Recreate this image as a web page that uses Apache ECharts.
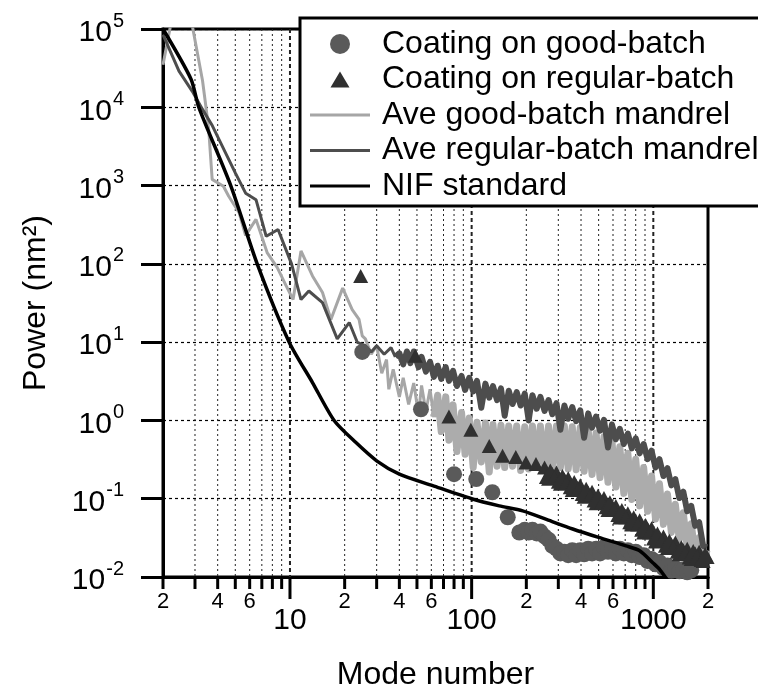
<!DOCTYPE html>
<html>
<head>
<meta charset="utf-8">
<script src="https://cdn.jsdelivr.net/npm/echarts@6/dist/echarts.min.js"></script>
<style>
  html, body { margin: 0; padding: 0; background: #fff; }
  #chart { width: 758px; height: 685px; }
</style>
</head>
<body>
<div id="chart"></div>
<script>
const FONT = '"Liberation Sans", Arial, Helvetica, sans-serif';

// axis ranges
const xMin = 2, xMax = 2000;
const yMin = 0.01, yMax = 100000;

// x-axis ticks and their labels (log axis, 1-2-...-9 per decade)
const xTickValues = [2,3,4,5,6,7,8,9,10,20,30,40,50,60,70,80,90,100,200,300,400,500,600,700,800,900,1000,2000];
const xMajorValues = [10, 100, 1000];
const xLabelValues = [2, 4, 6, 10, 20, 40, 60, 100, 200, 400, 600, 1000, 2000];
const xLabelTexts  = ['2','4','6','10','2','4','6','100','2','4','6','1000','2'];

// y-axis decades and the exponents printed next to them
const yTickValues = [0.01, 0.1, 1, 10, 100, 1000, 10000, 100000];
const yTickExps   = ['-2', '-1', '0', '1', '2', '3', '4', '5'];

// NIF standard power spectrum
const nifModes = [2,2.85,3.15,4.72,6.6,9.9,13.3,17.5,23,30,40,61,100,142,191,260,360,500,708,841,1000,1080,1200];
const nifPower = [1e5,2.3e4,1e4,1e3,100,10,3.05,1,0.525,0.305,0.206,0.147,0.1,0.081,0.07,0.054,0.041,0.032,0.025,0.0217,0.015,0.0126,0.009];

// shared mode grid for the dense high-mode part of the mandrel averages
const highModes = [40,42,44,46,48,51,53,56,59,62,65,68,72,75,79,83,88,92,97,102,107,113,119,125,131,138,145,152,160,168,177,186,196,206,216,228,239,252,265,278,293,308,324,340,358,376,396,416,438,460,484,509,535,563,592,622,654,688,724,761,800,841,885,930,978,1028,1081,1137,1196,1257,1322,1390,1462,1537,1617,1700,1788,1880,1977];

// Ave regular-batch mandrel
const darkLowModes = [2,2.45,2.9,3.3,3.74,5.0,5.7,6.5,7.4,8.6,10.2,11.5,12.7,15.1,18.2,21.2,23.5,26,28,30,33,36,38];
const darkLowPower = [85000,29000,16000,9400,5800,1450,800,660,225,275,100,35,45,32,11,17.8,9.9,9,7.5,9,7,8.5,6.5];
const darkHighPower = [7.2,5.2,7.6,5.4,7.6,4.8,6.5,4.2,5.6,3.6,
  5.0,3.4,4.8,3.2,4.3,2.75,3.7,2.45,3.5,2.35,
  3.2,1.45,2.95,1.95,2.75,1.82,2.57,1.15,2.4,1.62,
  2.3,1.55,2.2,1.0,2.1,1.41,2.0,1.32,1.82,1.2,
  1.66,0.76,1.55,1.05,1.48,0.98,1.35,0.60,1.23,0.81,
  1.12,0.74,1.02,0.45,0.89,0.575,0.78,0.50,0.68,0.44,
  0.59,0.38,0.50,0.32,0.41,0.25,0.32,0.195,0.245,0.148,
  0.178,0.102,0.123,0.069,0.081,0.045,0.050,0.025,0.024];

// Ave good-batch mandrel
const lightLowModes = [2,2.2,2.5,2.9,3.3,3.43,3.57,3.73,4.3,4.6,5.25,5.7,6.5,7.5,8.5,9.5,10.4,11.5,13.3,15.1,16.8,19.5,22,24,25,26,28,30,32,34,35,37,40,42,45,48,51,53,56,59,62];
const lightLowPower = [35000,110000,300000,110000,22000,11000,5200,1200,980,730,450,230,370,138,90,53,35,146,70,43,19.5,49,26,19.5,12,11,7,9,4,6,2.5,4.5,2,3.5,1.6,3,1.2,2.8,1.3,2.5,1.1];
const lightHighPower = [2.1,0.72,2.0,0.56,1.58,0.40,1.26,0.37,1.07,0.25,
  0.95,0.295,0.93,0.22,0.89,0.26,0.87,0.25,0.85,0.26,
  0.85,0.23,0.83,0.24,0.85,0.25,0.85,0.24,0.85,0.24,
  0.85,0.25,0.85,0.24,0.83,0.235,0.81,0.224,0.76,0.204,
  0.69,0.186,0.62,0.162,0.54,0.141,0.46,0.117,0.38,0.098,
  0.32,0.081,0.25,0.069,0.195,0.055,0.155,0.047,0.115,0.037,
  0.085,0.030,0.066,0.024,0.048,0.019,0.032,0.015,0.022];

// Coating on good-batch
const goodModes = [25,52.6,80,106,130,158,183,
  196,206,216,228,239,252,265,278,293,308,324,340,358,376,396,416,438,460,484,509,535,563,592,622,654,688,724,761,800,841,885,930,978,1028,1081,1137,1196,1257,1322,1390,1462,1537,1617];
const goodPower = [7.5,1.39,0.206,0.178,0.121,0.058,0.037,
  0.040,0.037,0.040,0.036,0.038,0.033,0.030,0.025,0.023,0.020,0.021,0.019,0.022,0.019,0.022,0.0195,0.023,0.020,0.023,0.020,0.024,0.021,0.023,0.020,0.023,0.020,0.022,0.019,0.021,0.018,0.019,0.016,0.017,0.0145,0.0155,0.013,0.014,0.012,0.013,0.0118,0.0125,0.0115,0.0122];

// Coating on regular-batch
const regModes = [24.5,49,75,99,125,148,175,199,226,
  252,265,278,293,308,324,340,358,376,396,416,438,460,484,509,535,563,592,622,654,688,724,761,800,841,885,930,978,1028,1081,1137,1196,1257,1322,1390,1462,1537,1617,1700,1788,1880,1977,
  258,271,285,300,316,332,349,367,386,406,427,449,472,496,522,549,577,607,638,671,706,742,780,820,863,907,954,1003,1054,1109,1166,1226,1289,1356,1426,1499,1577,1658,1744,1834,1928];
const regPower = [70,6.7,1.12,0.76,0.47,0.355,0.34,0.29,0.277,
  0.25,0.18,0.207,0.216,0.155,0.176,0.183,0.129,0.146,0.149,0.106,0.119,0.123,0.0875,0.098,0.102,0.072,0.080,0.081,0.0575,0.064,0.065,0.047,0.052,0.053,0.037,0.041,0.042,0.0285,0.032,0.033,0.0235,0.026,0.0275,0.0195,0.022,0.023,0.017,0.020,0.021,0.016,0.018,
  0.19,0.23,0.185,0.165,0.195,0.16,0.14,0.163,0.132,0.115,0.134,0.108,0.095,0.11,0.09,0.078,0.09,0.073,0.062,0.072,0.058,0.05,0.058,0.047,0.04,0.046,0.037,0.031,0.036,0.029,0.025,0.029,0.024,0.021,0.024,0.0205,0.0178,0.0215,0.0185,0.0165,0.0195];

const zipPairs = (xs, ys) => xs.map((x, i) => [x, ys[i]]);
const darkLowData = zipPairs(darkLowModes, darkLowPower);
const darkHighData = zipPairs(darkLowModes.slice(-1).concat(highModes), darkLowPower.slice(-1).concat(darkHighPower));
const lightLowData = zipPairs(lightLowModes, lightLowPower);
const lightHighData = zipPairs(lightLowModes.slice(-1).concat(highModes.slice(10)), lightLowPower.slice(-1).concat(lightHighPower));

// legend glyphs; the leading moves fix the icon box to 60 x 20
const lineIcon = 'path://M0,0M60,20M0,8.5H60V11.5H0Z';
const triangleIcon = 'path://M0,0M60,20M30,2L39.5,18L20.5,18Z';

const measureCtx = document.createElement('canvas').getContext('2d');
function textWidth(text, font) {
  measureCtx.font = font;
  return measureCtx.measureText(text).width;
}

function textEl(x, y, text, size, align) {
  return {
    type: 'text', x: x, y: y,
    style: {
      text: text, fill: '#000', font: size + 'px ' + FONT,
      align: align, verticalAlign: 'middle',
      textAlign: align, textVerticalAlign: 'middle'
    }
  };
}

// vertical dotted grid lines at every x tick inside the frame
function renderXGrid(params, api) {
  const v = api.value(0);
  if (v <= xMin || v >= xMax) return { type: 'group', children: [] };
  const top = api.coord([v, yMax]);
  const bot = api.coord([v, yMin]);
  const major = xMajorValues.indexOf(v) >= 0;
  return {
    type: 'line',
    shape: { x1: bot[0], y1: top[1], x2: bot[0], y2: bot[1] },
    style: { stroke: '#222', lineWidth: major ? 2 : 1, lineDash: major ? [4, 3] : [2, 3] },
    silent: true
  };
}

// outward tick marks and labels along the x axis
function renderXTick(params, api) {
  const v = api.value(0);
  const p = api.coord([v, yMin]);
  const major = xMajorValues.indexOf(v) >= 0;
  const children = [{
    type: 'line',
    shape: { x1: p[0], y1: p[1], x2: p[0], y2: p[1] + (major ? 22 : 12) },
    style: { stroke: '#000', lineWidth: 3 }
  }];
  const li = xLabelValues.indexOf(v);
  if (li >= 0) {
    children.push(textEl(p[0], p[1] + (major ? 44 : 25), xLabelTexts[li], major ? 30 : 22, 'center'));
  }
  return { type: 'group', children: children, silent: true };
}

// "10" with a raised exponent beside each y decade
function renderYLabel(params, api) {
  const i = params.dataIndex;
  const p = api.coord([xMin, api.value(1)]);
  const right = p[0] - 39;
  const sw = textWidth(yTickExps[i], '20px ' + FONT);
  return {
    type: 'group', silent: true,
    children: [
      textEl(right - sw - 1, p[1] + 4, '10', 30, 'right'),
      textEl(right, p[1] - 8, yTickExps[i], 20, 'right')
    ]
  };
}

const chart = echarts.init(document.getElementById('chart'), null, { renderer: 'canvas' });

chart.setOption({
  animation: false,
  backgroundColor: '#fff',
  textStyle: { fontFamily: FONT, color: '#000' },
  grid: {
    left: 163, right: 50, top: 29, bottom: 108,
    show: true, borderColor: '#000', borderWidth: 3, backgroundColor: 'transparent',
    containLabel: false, outerBoundsMode: 'none'
  },
  legend: {
    orient: 'vertical',
    left: 300, top: 18,
    padding: [10, 90, 4, 10],
    itemWidth: 60, itemHeight: 20, itemGap: 3.5,
    backgroundColor: '#fff', borderColor: '#000', borderWidth: 3, borderRadius: 0,
    selectedMode: false,
    textStyle: { fontSize: 32, fontFamily: FONT, color: '#000', lineHeight: 31, padding: [0, 0, 0, 7] },
    data: [
      { name: 'Coating on good-batch', icon: 'circle' },
      { name: 'Coating on regular-batch', icon: triangleIcon },
      { name: 'Ave good-batch mandrel', icon: lineIcon },
      { name: 'Ave regular-batch mandrel', icon: lineIcon },
      { name: 'NIF standard', icon: lineIcon }
    ]
  },
  xAxis: {
    type: 'log', logBase: 10, min: xMin, max: xMax,
    name: 'Mode number', nameLocation: 'middle', nameGap: 82,
    nameTextStyle: { fontSize: 32, fontFamily: FONT, color: '#000' },
    axisLine: { show: true, lineStyle: { color: '#000', width: 3 } },
    axisTick: { show: false },
    axisLabel: { show: false },
    splitLine: { show: false },
    minorTick: { show: false },
    minorSplitLine: { show: false }
  },
  yAxis: {
    type: 'log', logBase: 10, min: yMin, max: yMax,
    name: 'Power (nm²)', nameLocation: 'middle', nameGap: 111, nameRotate: 90,
    nameTextStyle: { fontSize: 32, fontFamily: FONT, color: '#000' },
    axisLine: { show: true, lineStyle: { color: '#000', width: 3 } },
    axisTick: { show: true, inside: false, length: 22, lineStyle: { color: '#000', width: 3 } },
    axisLabel: { show: false },
    splitLine: { show: true, lineStyle: { color: '#000', width: 1.2, type: [3, 3] } },
    minorTick: { show: false },
    minorSplitLine: { show: false }
  },
  series: [
    {
      type: 'custom', name: 'xgrid', silent: true, z: 1,
      renderItem: renderXGrid,
      data: xTickValues.map(v => [v, yMin])
    },
    {
      type: 'custom', name: 'xticks', silent: true, z: 5, clip: false,
      renderItem: renderXTick,
      data: xTickValues.map(v => [v, yMin])
    },
    {
      type: 'custom', name: 'ylabels', silent: true, z: 5, clip: false,
      renderItem: renderYLabel,
      data: yTickValues.map(v => [xMin, v])
    },
    {
      type: 'line', name: 'Ave good-batch mandrel',
      data: lightLowData, symbol: 'none', showSymbol: false, z: 2,
      lineStyle: { color: '#a6a6a6', width: 3 }, itemStyle: { color: '#a6a6a6' }
    },
    {
      type: 'line', name: 'Ave good-batch mandrel',
      data: lightHighData, symbol: 'none', showSymbol: false, z: 2,
      lineStyle: { color: '#acacac', width: 7, join: 'round' }, itemStyle: { color: '#a6a6a6' }
    },
    {
      type: 'line', name: 'Ave regular-batch mandrel',
      data: darkLowData, symbol: 'none', showSymbol: false, z: 2,
      lineStyle: { color: '#4d4d4d', width: 3 }, itemStyle: { color: '#4d4d4d' }
    },
    {
      type: 'line', name: 'Ave regular-batch mandrel',
      data: darkHighData, symbol: 'none', showSymbol: false, z: 2,
      lineStyle: { color: '#4d4d4d', width: 6, join: 'round' }, itemStyle: { color: '#4d4d4d' }
    },
    {
      type: 'scatter', name: 'Coating on good-batch',
      data: zipPairs(goodModes, goodPower), symbol: 'circle', symbolSize: 16, z: 3,
      itemStyle: { color: '#5a5a5a', opacity: 1 }
    },
    {
      type: 'scatter', name: 'Coating on regular-batch',
      data: zipPairs(regModes, regPower), symbol: 'triangle', symbolSize: [15, 14], z: 3,
      itemStyle: { color: '#303030', opacity: 1 }
    },
    {
      type: 'line', name: 'NIF standard',
      data: zipPairs(nifModes, nifPower), symbol: 'none', showSymbol: false, z: 4,
      smooth: 0.25,
      lineStyle: { color: '#000', width: 3.5 }, itemStyle: { color: '#000' }
    }
  ]
});
</script>
</body>
</html>
